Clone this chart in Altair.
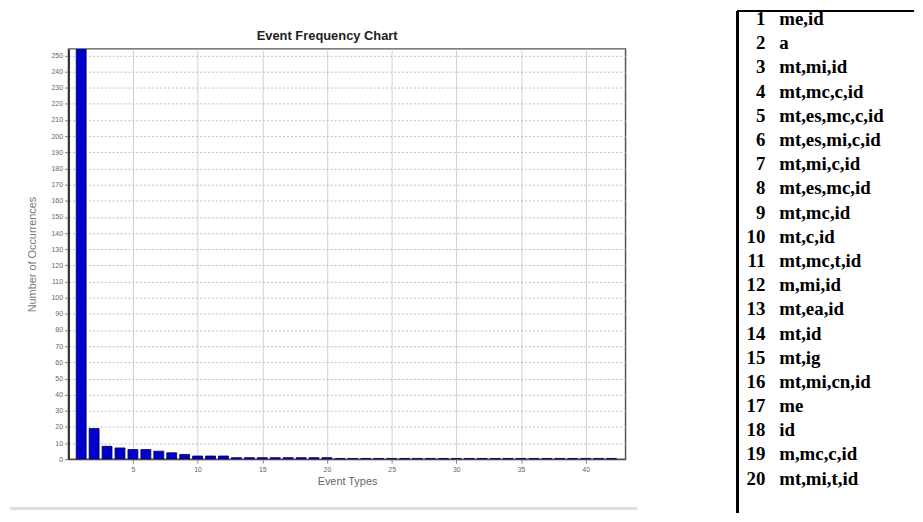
import altair as alt
import pandas as pd

# ---- data ----
event_types = [1, 2, 3, 4, 5, 6, 7, 8, 9, 10, 11, 12, 13, 14, 15, 16, 17, 18, 19, 20, 21,
               22, 23, 24, 25, 26, 27, 28, 29, 30, 31, 32, 33, 34, 35, 36, 37, 38, 39, 40, 41, 42]
occurrences = [254, 19, 8, 7, 6, 6, 5, 4, 3, 2, 2, 2, 1, 1, 1, 1, 1, 1, 1, 1, 0.5,
               0.5, 0.5, 0.5, 0.5, 0.5, 0.5, 0.5, 0.5, 0.5, 0.5, 0.5, 0.5, 0.5, 0.5, 0.5, 0.5, 0.5, 0.5, 0.5, 0.5, 0.5]
x_ticks = [5, 10, 15, 20, 25, 30, 35, 40]
y_ticks = [0, 10, 20, 30, 40, 50, 60, 70, 80, 90, 100, 110, 120, 130, 140, 150, 160,
           170, 180, 190, 200, 210, 220, 230, 240, 250]

legend_ids = [1, 2, 3, 4, 5, 6, 7, 8, 9, 10, 11, 12, 13, 14, 15, 16, 17, 18, 19, 20]
legend_labels = ["me,id", "a", "mt,mi,id", "mt,mc,c,id", "mt,es,mc,c,id", "mt,es,mi,c,id",
                 "mt,mi,c,id", "mt,es,mc,id", "mt,mc,id", "mt,c,id", "mt,mc,t,id", "m,mi,id",
                 "mt,ea,id", "mt,id", "mt,ig", "mt,mi,cn,id", "me", "id", "m,mc,c,id", "mt,mi,t,id"]

bars_df = pd.DataFrame({"event": event_types, "count": occurrences})
legend_df = pd.DataFrame({"idx": legend_ids, "num": [str(i) for i in legend_ids], "label": legend_labels})

SANS = "Liberation Sans"
SERIF = "Liberation Serif"
PW, PH = 562, 414

bars = alt.Chart(bars_df).mark_bar(
    size=10, color="#0000cc", stroke="#00004d", strokeWidth=0.8, clip=True
).encode(
    x=alt.X("event:Q",
            scale=alt.Scale(domain=[0.4, 42.7], nice=False, zero=False),
            axis=alt.Axis(values=x_ticks, title="Event Types", grid=True,
                          gridColor="#d0d0d0", gridWidth=1,
                          labelFontSize=7, labelColor="#666", labelFont=SANS,
                          titleFontSize=11, titleFont=SANS, titleColor="#666",
                          titleFontWeight="normal", titlePadding=3,
                          tickSize=4, tickColor="#888", domainColor="#444",
                          labelPadding=2)),
    y=alt.Y("count:Q",
            scale=alt.Scale(domain=[0, 254], nice=False),
            axis=alt.Axis(values=y_ticks, title="Number of Occurrences", grid=True,
                          gridColor="#bdbdbd", gridDash=[2, 2], gridWidth=1,
                          labelFontSize=7, labelColor="#666", labelFont=SANS,
                          titleFontSize=11, titleFont=SANS, titleColor="#777",
                          titleFontWeight="normal", titlePadding=14,
                          tickSize=4, tickColor="#888", domainColor="#333",
                          domainWidth=2, labelPadding=2)),
)

bottom_line = alt.Chart(bars_df).mark_rule(color="#dddddd", strokeWidth=2).encode(
    x=alt.value(-59), x2=alt.value(PW + 11), y=alt.value(PH + 50)
)

left = alt.layer(bars, bottom_line).properties(
    width=PW, height=PH,
    title=alt.TitleParams("Event Frequency Chart", fontSize=13, font=SANS,
                          fontWeight="bold", color="#222", dx=-20, offset=6),
    view=alt.ViewBackground(stroke="#555", strokeWidth=1.5),
)

# right-hand list; its plot area is aligned with the left plot's top (page y=46)
RW, RH = 178, 468
ybase = alt.Y("idx:Q", scale=alt.Scale(domain=[2.2295, 21.41], reverse=True, nice=False, zero=False),
              axis=None)

nums = alt.Chart(legend_df).mark_text(
    align="right", baseline="middle", font=SERIF, fontSize=19, fontWeight="bold", color="#000"
).encode(x=alt.value(28), y=ybase, text="num:N")

labs = alt.Chart(legend_df).mark_text(
    align="left", baseline="middle", font=SERIF, fontSize=19, fontWeight="bold", color="#000"
).encode(x=alt.value(42), y=ybase, text="label:N")

top_rule = alt.Chart(legend_df).mark_rule(color="#000", strokeWidth=1.5).encode(
    x=alt.value(0), x2=alt.value(RW), y=alt.value(-38)
)
left_rule = alt.Chart(legend_df).mark_rule(color="#000", strokeWidth=1.5).encode(
    x=alt.value(0), y=alt.value(-38), y2=alt.value(RH)
)

right = alt.layer(nums, labs, top_rule, left_rule).properties(
    width=RW, height=RH,
    view=alt.ViewBackground(strokeWidth=0),
)

chart = alt.hconcat(left, right, spacing=99).properties(
    padding={"left": 0, "top": 0, "right": 0, "bottom": 0},
    background="white",
).configure_view(strokeWidth=0)

chart.save("out.html", embed_options={"renderer": "svg", "actions": False})
